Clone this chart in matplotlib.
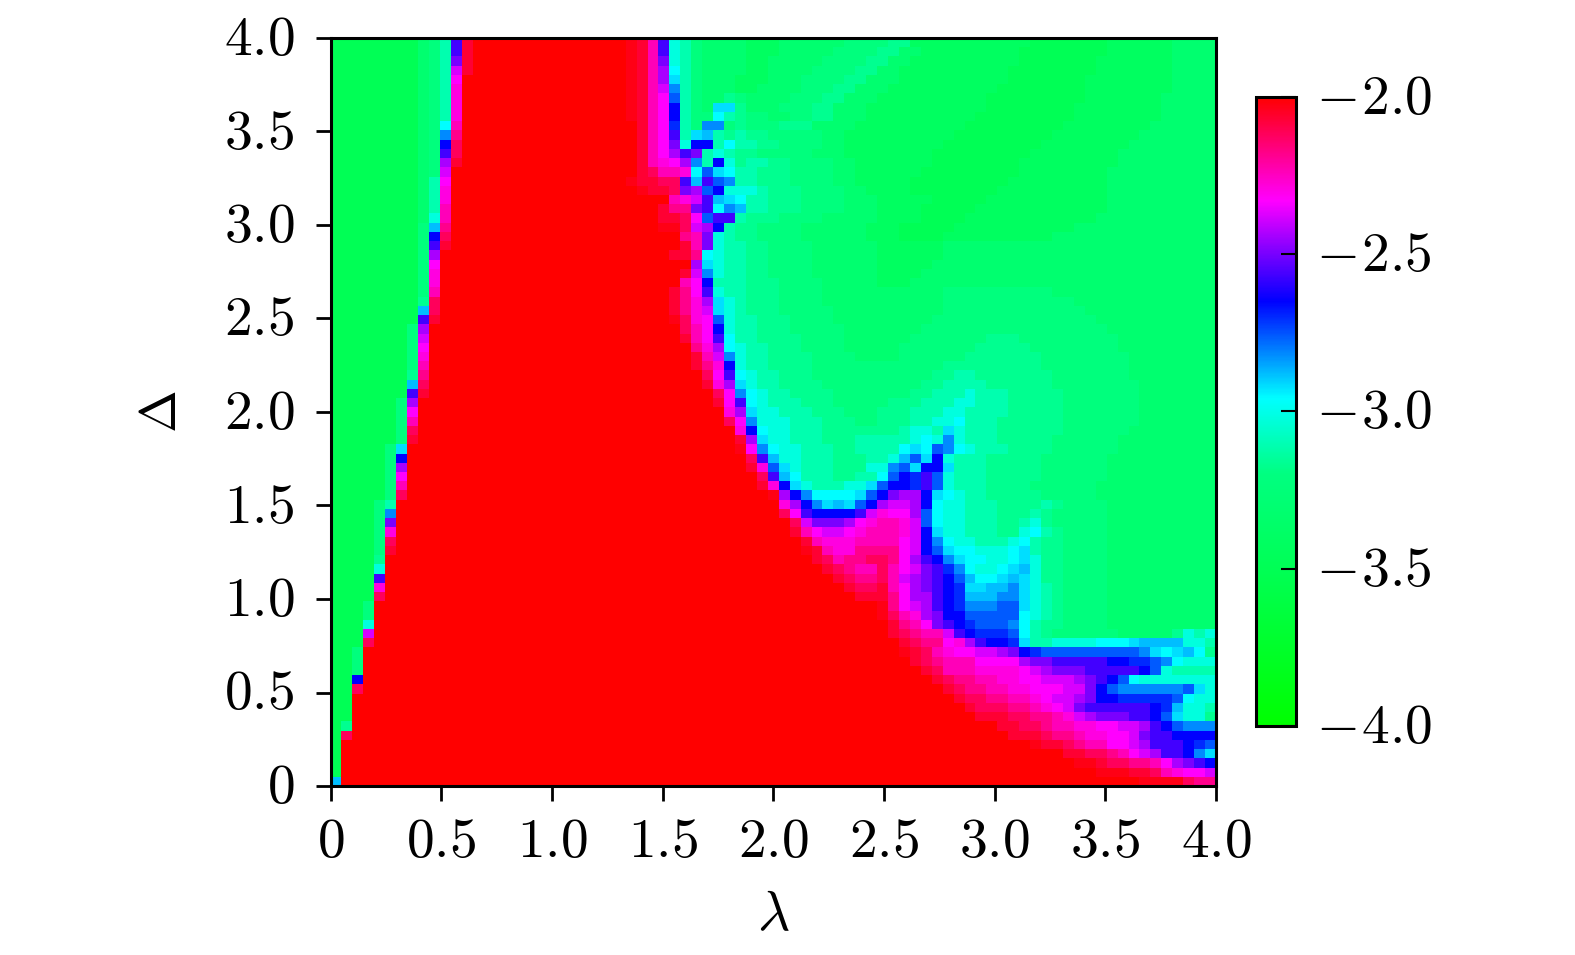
import re
import numpy as np
import matplotlib
matplotlib.use('Agg')
import matplotlib.pyplot as plt
from matplotlib.colors import LinearSegmentedColormap, Normalize
from matplotlib.cm import ScalarMappable
from matplotlib.transforms import ScaledTranslation

plt.rcParams['mathtext.fontset'] = 'cm'

W, H = 1575, 955

xticks = [0, 0.5, 1.0, 1.5, 2.0, 2.5, 3.0, 3.5, 4.0]
xtick_labels = ['$0$', '$0.5$', '$1.0$', '$1.5$', '$2.0$', '$2.5$', '$3.0$', '$3.5$', '$4.0$']
cbar_ticks = [-2.0, -2.5, -3.0, -3.5, -4.0]
cbar_labels = [r'$-\hspace{0.05}2.0$', r'$-\hspace{0.05}2.5$', r'$-\hspace{0.05}3.0$',
               r'$-\hspace{0.05}3.5$', r'$-\hspace{0.05}4.0$']

# colour scale
cmap_values = [-4.0, -3.5, -3.2, -2.96, -2.65, -2.33, -2.0]
cmap_colors = ['#00ff00', '#00ff55', '#00ff80', '#00ffff', '#0000ff', '#ff00ff', '#ff0000']

# one letter per level of log value
level_chars = 'RqrxpnmMuvwiBdbeacCtTsSgGH'
level_values = [-2.00, -2.03, -2.07, -2.12, -2.18, -2.24, -2.29, -2.33, -2.38, -2.44, -2.50, -2.57,
                -2.65, -2.70, -2.76, -2.82, -2.88, -2.92, -2.96, -3.02, -3.11, -3.17, -3.22, -3.32,
                -3.42, -3.50]

# rows from delta=4 down to delta=0, "<first column><level>" for every run of cells
rows = [
    "0H 8g 9S 10T 11i 12r 13R 27q 28r 29n 30i 31t 32T 33S 34g 38G 41g 47S 51s 53G 64H 71G 77g",
    "0H 8g 9S 10T 11i 12r 13R 27q 28r 29n 30i 31t 32T 33S 34g 38G 41g 46S 50s 52g 54G 63H 71G 77g",
    "0H 8g 9S 10T 11w 12r 13R 27q 28r 29n 30w 31t 32T 33S 34g 38G 40g 45S 49s 51g 53G 63H 70G 77g",
    "0H 8g 9S 10T 11u 12r 13R 27q 28r 29n 30v 31C 32T 33S 34g 38G 40g 44S 48s 50g 52G 62H 70G 77g",
    "0H 8g 9S 10T 11M 12R 27q 28r 29n 30v 31c 32T 33S 34g 37G 40g 43S 47s 49g 52G 62H 69G 77g",
    "0H 8g 9S 10T 11m 12R 27q 28r 29n 30u 31e 32T 33S 34g 37G 39g 43S 46s 48g 51G 61H 69G 77g",
    "0H 8g 9S 10T 11m 12R 27q 28r 29n 30M 31b 32T 33S 34g 36s 37S 38g 42S 45s 47g 50G 60H 69G 76g",
    "0H 8g 9S 10T 11m 12R 27q 28r 29n 30M 31B 32T 33S 34g 35c 37s 38g 41S 44s 46g 49G 60H 68G 76g",
    "0H 8g 9S 10T 11m 12R 27q 28r 29n 30M 31B 32T 33S 35C 36T 37s 38S 40g 42S 44s 46g 49G 59H 68G 76g",
    "0H 8g 9S 10C 11n 12R 28r 29n 30M 31d 32T 33S 34e 36S 37s 38S 41s 44g 48G 58H 67G 75g",
    "0H 8g 9S 10e 11p 12R 28r 29n 30M 31i 32T 33c 34a 35T 36s 37T 38s 40S 45g 47G 57H 66G 74g",
    "0H 8g 9S 10B 11x 12R 28r 29n 30M 31w 32t 33B 35T 36C 37T 39s 41S 45g 47G 56H 65G 73g",
    "0H 8g 9S 10i 11x 12R 28r 29n 30M 31v 32i 33w 34T 35t 36T 37s 39S 44g 47G 55H 64G 72g",
    "0H 8g 9S 10v 11r 12R 28r 29n 30m 31M 32v 33e 34T 35B 36t 37s 38T 40s 42S 46g 48G 55H 63G 72g",
    "0H 8g 9S 10u 11R 28r 29x 30n 32m 33C 34b 35c 36C 37T 39s 42S 46g 48G 54H 63G 71g",
    "0H 8g 9T 10M 11R 27q 28r 30x 32i 33a 34i 35b 36e 37T 39s 42S 46g 48G 53H 62G 71g",
    "0H 8g 9T 10m 11R 28q 29r 31x 32w 33v 34b 35B 36t 39T 40s 43S 47g 49G 53H 61G 71g",
    "0H 8g 9T 10m 11R 31n 32m 33u 34i 35a 36c 37C 38T 40s 43S 47g 50G 55H 60G 71g",
    "0H 8g 9T 10n 11R 30r 31p 33w 34i 35C 36e 37a 38T 40s 43S 47g 50G 54H 59G 71g",
    "0H 8g 9t 10n 11R 30r 32x 33M 34b 35i 37T 38s 41S 45g 50G 54H 58G 70g",
    "0H 8S 9a 10p 11R 30q 32x 33u 34v 35B 36T 37s 39S 43g 49G 52H 57G 68g",
    "0H 8S 9B 10x 11R 32p 33n 34w 35t 36T 37s 39S 43g 49G 52H 56G 66g",
    "0H 8S 9i 10r 11R 32r 33n 34w 35t 36T 38s 40S 44g 50G 56g",
    "0H 8S 9v 10R 31r 33p 34C 35t 36T 38s 40S 44g 50G 56g",
    "0H 8S 9M 10R 33v 34c 35t 36T 38s 40S 44g 50G 55g",
    "0H 8S 9m 10R 32r 33u 34e 35t 36T 38s 40S 44g 50G 54g",
    "0H 8S 9m 10R 32n 33M 34B 35T 38s 41S 45g 50G 53g",
    "0H 8S 9n 10R 31r 32p 33M 34i 35t 36T 38s 41S 45g 56S 66g",
    "0H 8s 9x 10R 31r 32p 33m 34v 35c 36t 37T 38s 41S 45g 56S 68g",
    "0H 8a 9x 10R 31r 32p 33m 34u 35c 36t 37T 38s 41S 46g 56S 69g",
    "0H 8i 9r 10R 31q 32x 33m 34M 35b 36t 37T 39s 42S 46g 55S 70g",
    "0H 7S 8v 9R 32x 33n 34M 35B 36t 37T 39s 42S 47g 54S 71g",
    "0H 7S 8u 9R 32r 33n 34M 35i 36C 37T 39s 43S 47g 53S 60s 63S 72g",
    "0H 7S 8M 9R 33p 34m 35v 36C 37t 38T 40s 43S 47g 52S 59s 64S 72g",
    "0H 7S 8m 9R 33r 34n 35u 36e 37t 38T 40s 44S 48g 52S 58s 65S 73g",
    "0H 7S 8n 9R 33r 34p 35m 36B 37t 38T 40s 44S 56s 65S 73g",
    "0H 7s 8p 9R 34x 35M 36i 37C 38t 39T 41s 44S 55s 57T 59s 66S 73g",
    "0H 7a 8x 9R 34r 35m 36v 37c 38t 39T 41s 45S 54s 56T 60s 66S 74g",
    "0H 7i 8r 9R 35x 36M 37e 38C 39t 40T 42s 46S 53s 55T 58t 59T 62s 67S 74g",
    "0H 6S 7v 8R 35r 36M 37i 38C 39t 40T 43s 46S 51s 54T 57t 59T 62s 67S 74g",
    "0H 6S 7M 8R 36m 37v 38c 39t 41T 44s 47S 50s 53T 56t 58T 62s 67S 74g",
    "0H 6S 7n 8R 36x 37M 38e 39t 42T 45s 48S 50s 53T 55t 57C 58T 61s 67S 74g",
    "0H 6S 7x 8R 37m 38B 39C 40t 42T 45s 52T 53t 55T 56c 57t 58T 61s 67S 73g",
    "0H 6S 7r 8R 37r 38v 39c 40t 42T 45s 48T 53t 54C 55t 56e 57t 58T 61s 66S 72g",
    "0H 5S 6c 7R 37q 38M 39e 40C 41t 43T 46s 48T 52C 53c 54C 55b 56e 57C 58t 59T 62s 66S 72g",
    "0H 5S 6B 7R 38x 39i 40a 41t 43T 46s 49T 51t 52a 53b 54c 55B 56t 57T 60s 65S 71g",
    "0H 5S 6v 7R 38r 39m 40b 41c 42t 43T 46s 49t 51e 52b 53c 54B 56c 57T 60s 65S 71g",
    "0H 5S 6M 7R 39x 40i 41a 42C 43T 46s 48T 50C 51b 52B 53d 54i 55b 56t 57T 60s 65S 71g",
    "0H 5S 6n 7R 39r 40m 41B 42c 43t 44T 47t 49c 50b 51B 53d 54i 55b 56t 57T 60s 64S 70g",
    "0H 5S 6x 7R 40q 41v 42B 43e 44C 48c 49b 50B 51w 52v 54B 55c 56C 57t 58T 60s 65S 70g",
    "0H 4S 5T 6R 41m 42v 43B 44e 45c 46a 47c 48b 49B 50v 51u 53v 54B 55C 56t 58T 61s 65T 66s 67S 71g",
    "0H 4S 5e 6R 41x 42M 43i 44B 48i 49u 50m 51M 53v 54b 55C 56t 58T 61s 64T 65s 66S 71g",
    "0H 4S 5w 6R 42x 43u 44w 47v 48M 49m 50n 52m 53u 54b 55C 56t 58T 61s 63T 64t 65s 66S 71g",
    "0H 4S 5m 6R 42r 43n 44M 45u 47M 48m 49n 52m 53u 54B 55c 56t 58T 61s 63t 64C 65T 66s 67S 71g",
    "0H 4S 5x 6R 43r 44n 45m 48n 52M 53u 54B 55e 56C 57t 59T 62t 63C 64T 65s 67S 71g",
    "0H 4S 5r 6R 43q 44r 45n 46m 48p 52M 53u 54B 55b 56c 57C 59t 62C 63c 64T 65s 67S 71g",
    "0H 4s 5R 44r 45x 46n 47p 49x 51p 52M 53v 54i 55B 56e 57c 58C 60t 62C 63c 64t 65s 67S 71g",
    "0H 4t 5R 45r 46x 47p 48n 50x 51n 52M 53u 54w 55i 56d 57e 58C 59t 61C 62c 63a 64t 65s 67S 71g",
    "0H 4i 5R 46r 47x 48p 50x 51n 52u 53v 54w 55i 56B 57b 58a 59C 61c 62a 63c 64t 65s 67S 71g",
    "0H 4m 5R 47r 48x 50r 51n 52M 53v 54w 55i 56B 57d 58c 60a 62e 63c 64t 65T 66s 67S 71g",
    "0H 4x 5R 48r 51p 52M 53v 55i 56B 57d 58a 61e 63c 64t 65T 66s 67S 71g",
    "0H 3S 4R 50q 51p 52M 53u 54v 55i 56B 57d 58e 61b 63c 64t 65T 66s 67S 71g",
    "0H 3S 4R 50q 51x 52n 53m 54v 55w 56B 58b 63C 64t 65T 66s 67S 71g",
    "0H 3t 4R 51r 52p 53n 54M 55w 56i 57B 58d 59b 62e 63C 64T 65s 67S 71g",
    "0H 3u 4R 51r 52x 53p 54n 56u 57i 58B 59d 62b 63C 64T 65s 66S 72g 77s 78t 79T 80t",
    "0H 3x 4R 52r 53x 54p 56M 57m 58v 59i 60B 62d 63c 64T 66t 70C 73c 74a 78t 80T",
    "0H 2S 3R 52q 53r 54x 55n 56m 57M 59u 61v 62w 63B 64d 65b 74e 75c 76C 77c 78a 79C 80s",
    "0H 2S 3R 53r 54x 55p 56n 59M 63v 64w 66i 71B 73d 75b 76e 77C 78t",
    "0H 2S 3R 54r 55x 56n 59m 63M 64u 65v 66w 69i 74B 75b 76t 77T",
    "0H 2B 3R 55r 56x 57p 59n 61m 63M 65u 68v 69w 70i 71B 72b 73C 74t",
    "0H 2x 3R 56r 57x 58p 60n 62m 64M 67u 69w 70B 71b 72e 78b 79c 80t",
    "0H 2R 57r 58x 60p 62n 64m 65M 66u 68v 69w 70B 72d 77b 78C 79t",
    "0H 2R 58r 59x 62p 64n 65m 66M 67u 68w 69i 75B 76d 77a 78t 80T",
    "0H 2R 59r 62x 64p 66n 67m 68u 69v 70w 73i 75B 76b 77c 78t 80s",
    "0H 1s 2R 61r 63x 65p 66n 68m 70M 72u 74v 75i 76B 77b 78e",
    "0H 1x 2R 62r 65x 66p 68n 69m 71M 73u 74w 75i 77B",
    "0H 1R 64q 65r 67x 68p 69n 71M 73u 74v 75i 78B 79d 80b",
    "0H 1R 67r 69x 71p 72n 73M 74u 75v 76i 78B 79e 80c",
    "0H 1R 68q 70r 71x 73p 75n 76M 77v 78w 79i 80B",
    "0H 1R 70q 73r 75x 76n 77m 78M 80u",
    "0a 1R 74q 78x 79p",
]


def row_values(row):
    vals = []
    tokens = re.findall(r'(\d+)([A-Za-z])', row)
    for i, (start, ch) in enumerate(tokens):
        end = int(tokens[i + 1][0]) if i + 1 < len(tokens) else 81
        vals += [level_values[level_chars.index(ch)]] * (end - int(start))
    return vals


grid = np.array([row_values(r) for r in rows])[::-1]
lam_edges = np.linspace(0, 4, 82)
delta_edges = np.linspace(0, 4, 82)

stops = [(v - cmap_values[0]) / (cmap_values[-1] - cmap_values[0]) for v in cmap_values]
cmap = LinearSegmentedColormap.from_list('rgbcm', list(zip(stops, cmap_colors)), N=512)
norm = Normalize(-4, -2)

fig = plt.figure(figsize=(W / 100, H / 100), dpi=100)
ax = fig.add_axes([330.5 / W, 1 - 786 / H, 885.5 / W, 748 / H])
ax.pcolormesh(lam_edges, delta_edges, grid, cmap=cmap, norm=norm, shading='flat')
ax.set_xlim(0, 4)
ax.set_ylim(0, 4)
ax.set_xticks(xticks)
ax.set_xticklabels(xtick_labels)
ax.set_yticks(xticks)
ax.set_yticklabels(xtick_labels)
ax.tick_params(axis='x', direction='out', length=10.5, width=2, labelsize=40, pad=10.5)
ax.tick_params(axis='y', direction='out', length=10.5, width=2, labelsize=40, pad=15.5)
for sp in ax.spines.values():
    sp.set_linewidth(2.2)
ax.set_xlabel(r'$\lambda$', fontsize=40, labelpad=14)
ax.set_ylabel(r'$\Delta$', fontsize=37, labelpad=26.5)

cax = fig.add_axes([1255.5 / W, 1 - 726 / H, 40 / W, 629.5 / H])
cb = fig.colorbar(ScalarMappable(norm=norm, cmap=cmap), cax=cax)
cb.set_ticks(cbar_ticks)
cb.set_ticklabels(cbar_labels)
cb.ax.tick_params(direction='in', length=10.5, width=1.5, labelsize=40, pad=15)
cb.outline.set_linewidth(2.2)

# the labels sit a little high in the original
up = ScaledTranslation(0, 4 / 100, fig.dpi_scale_trans)
for lab in ax.get_yticklabels() + cb.ax.get_yticklabels():
    lab.set_transform(lab.get_transform() + up)

plt.savefig('out.png', dpi=100)
plt.close()
